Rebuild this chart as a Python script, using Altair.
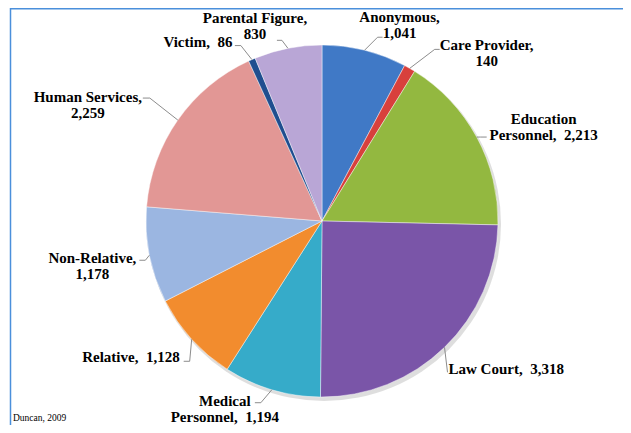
import altair as alt
import pandas as pd
import numpy as np

# ---- data ----
categories = ["Anonymous", "Care Provider", "Education Personnel", "Law Court",
              "Medical Personnel", "Relative", "Non-Relative", "Human Services",
              "Victim", "Parental Figure"]
values = [1041, 140, 2213, 3318, 1194, 1128, 1178, 2259, 86, 830]
label_texts = ["Anonymous,\n1,041", "Care Provider,\n140", "Education\nPersonnel,\u00a0 2,213",
               "Law Court,\u00a0 3,318", "Medical\nPersonnel,\u00a0 1,194", "Relative,\u00a0 1,128",
               "Non-Relative,\n1,178", "Human Services,\n2,259", "Victim,\u00a0 86",
               "Parental Figure,\n830"]
colors = ["#4079C6", "#D8403C", "#93B840", "#7A55A8", "#36ABC9", "#F28C2E",
          "#9BB6E1", "#E29795", "#1F4E8F", "#B9A6D6"]

# ---- layout (annotation offsets from each slice's outer mid point) ----
W, H = 615, 417
CX, CY, R = 314, 213, 176
label_align = ["center", "center", "center", "left", "center", "right",
               "center", "center", "center", "center"]
label_off = [(35, -28), (77, -18), (67, -13), (4, 27), (-47, 16), (-12, 23),
             (-57, 8), (-90, -18), (-54, -13), (-33, -25)]
bend_off = [(13, -13), (25, -19), (4, 0), (3, 25), (-11, 13), (-2, 22),
            (-4, 5), (-28, -22), (-11, -14), (-6, -8)]
hook_off = [(18, -13), (30, -19), (10, 0), (3, 25), (-17, 13), (-8, 22),
            (-10, 5), (-35, -22), (-17, -14), (-11, -8)]

df = pd.DataFrame({"category": categories, "value": values,
                   "order": list(range(len(values))), "label": label_texts,
                   "align": label_align})
tot = df["value"].sum()
mid = (df["value"].cumsum() - df["value"] / 2) / tot * 2 * np.pi
df["ex"] = CX + R * np.sin(mid)
df["ey"] = CY - R * np.cos(mid)
df["lx"] = df["ex"] + [o[0] for o in label_off]
df["ly"] = df["ey"] + [o[1] for o in label_off]
df["bx"] = df["ex"] + [o[0] for o in bend_off]
df["by"] = df["ey"] + [o[1] for o in bend_off]
df["hx"] = df["ex"] + [o[0] for o in hook_off]
df["hy"] = df["ey"] + [o[1] for o in hook_off]

xs = alt.Scale(domain=[0, W], range=[0, W], nice=False, zero=False)
ys = alt.Scale(domain=[0, H], range=[0, H], nice=False, zero=False)

dummy = pd.DataFrame({"a": [0]})

shadow = alt.Chart(dummy).mark_arc(theta=0, theta2=2 * np.pi, outerRadius=R + 1,
                                   color="#000000", opacity=0.13).encode(
    x=alt.value(CX + 2), y=alt.value(CY + 3))

pie = alt.Chart(df).mark_arc(outerRadius=R, stroke="#ffffff", strokeWidth=0.8,
                             strokeOpacity=0.55).encode(
    theta=alt.Theta("value:Q", stack=True),
    order=alt.Order("order:Q"),
    color=alt.Color("category:N", scale=alt.Scale(domain=categories, range=colors), legend=None),
    x=alt.value(CX), y=alt.value(CY))

lead1 = alt.Chart(df).mark_rule(color="#7f7f7f", strokeWidth=0.9).encode(
    x=alt.X("ex:Q", scale=xs, axis=None), y=alt.Y("ey:Q", scale=ys, axis=None),
    x2="bx:Q", y2="by:Q")
lead2 = alt.Chart(df).mark_rule(color="#7f7f7f", strokeWidth=0.9).encode(
    x=alt.X("bx:Q", scale=xs, axis=None), y=alt.Y("by:Q", scale=ys, axis=None),
    x2="hx:Q", y2="hy:Q")

texts = []
for a in ["center", "left", "right"]:
    texts.append(alt.Chart(df).transform_filter(alt.datum.align == a).mark_text(
        align=a, baseline="alphabetic", lineBreak="\n", lineHeight=16,
        font="Liberation Serif", fontWeight="bold", fontSize=15, color="#000000").encode(
        x=alt.X("lx:Q", scale=xs, axis=None), y=alt.Y("ly:Q", scale=ys, axis=None),
        text="label:N"))

source = alt.Chart(dummy).mark_text(align="left", baseline="alphabetic",
                                    font="Liberation Serif", fontSize=9.5,
                                    color="#000000").encode(
    x=alt.value(5), y=alt.value(413), text=alt.value("Duncan, 2009"))

border_left = alt.Chart(dummy).mark_rule(color="#4A8FDB", strokeWidth=1.5).encode(
    x=alt.value(2.5), y=alt.value(0), y2=alt.value(H))
border_top = alt.Chart(dummy).mark_rule(color="#4A8FDB", strokeWidth=1.5).encode(
    x=alt.value(2), x2=alt.value(W), y=alt.value(0.8))

chart = alt.layer(shadow, pie, lead1, lead2, *texts, source, border_left, border_top).properties(
    width=W, height=H, padding=0, autosize="none", background="#ffffff"
).configure_view(stroke=None)

chart.save("out.html", embed_options={"renderer": "svg", "actions": False})
